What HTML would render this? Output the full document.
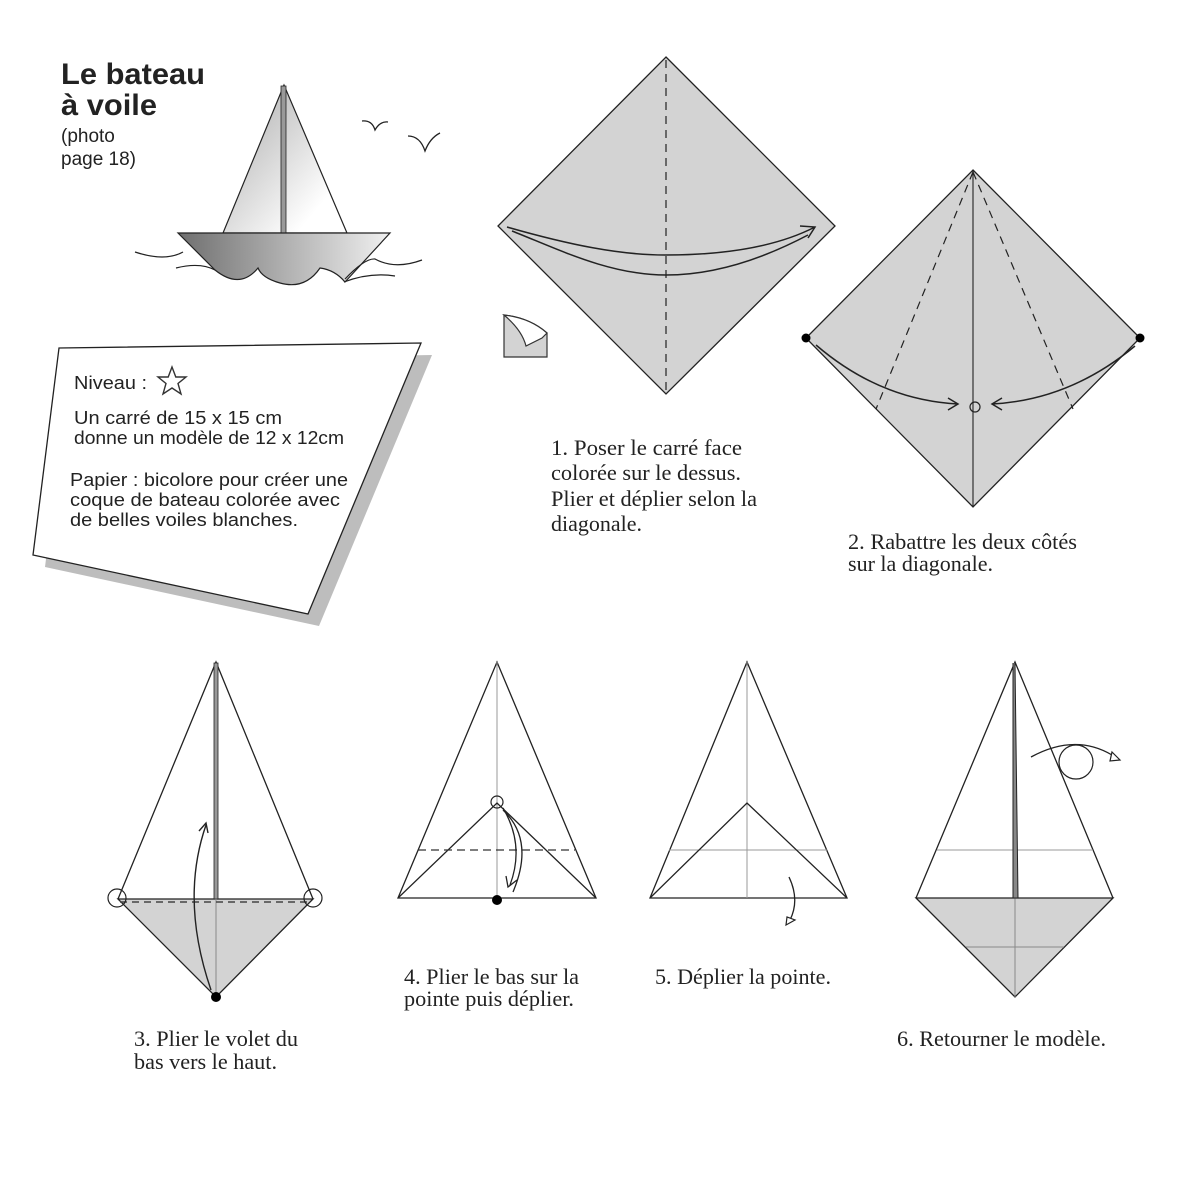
<!DOCTYPE html>
<html><head><meta charset="utf-8"><style>
html,body{margin:0;padding:0;background:#fff;}
svg{display:block;}
.s{font-family:"Liberation Serif",serif;font-size:22px;fill:#222;}
.a{font-family:"Liberation Sans",sans-serif;fill:#222;}
</style></head><body>
<svg width="1200" height="1200" viewBox="0 0 1200 1200" xmlns="http://www.w3.org/2000/svg">
<defs>
<linearGradient id="sail" x1="0" y1="0" x2="1" y2="1"><stop offset="0.3" stop-color="#c8c8c8"/><stop offset="0.8" stop-color="#ffffff"/></linearGradient>
<linearGradient id="hull" x1="0" y1="0" x2="1" y2="0"><stop offset="0" stop-color="#6f6f6f"/><stop offset="1" stop-color="#f0f0f0"/></linearGradient>
</defs>
<rect width="1200" height="1200" fill="#fff"/>
<!-- title -->
<text class="a" x="61" y="84" font-size="30" font-weight="bold" textLength="144" lengthAdjust="spacingAndGlyphs">Le bateau</text>
<text class="a" x="61" y="115" font-size="30" font-weight="bold" textLength="96" lengthAdjust="spacingAndGlyphs">à voile</text>
<text class="a" x="61" y="142" font-size="19">(photo</text>
<text class="a" x="61" y="165" font-size="19">page 18)</text>
<!-- boat -->
<path d="M284,85 L223,233 L347,233 Z" fill="url(#sail)" stroke="#222" stroke-width="1.2"/>
<rect x="281" y="86" width="5" height="147" fill="#999" stroke="#222" stroke-width="0.8"/>
<path d="M178,233 L390,233 L345,282 Q335,270 320,268 Q305,290 280,283 Q262,278 258,268 Q240,290 215,270 Z" fill="url(#hull)" stroke="#222" stroke-width="1.2"/>
<path d="M135,252 Q165,262 183,252 M176,268 Q200,262 215,270 M345,279 Q365,258 375,259 Q395,270 422,260 M344,282 Q370,272 395,276" fill="none" stroke="#222" stroke-width="1.2"/>
<path d="M362,121 Q372,120 375,130 Q380,121 388,122 M408,136 Q420,136 425,151 Q430,138 440,133" fill="none" stroke="#222" stroke-width="1.3"/>
<!-- card -->
<polygon points="71,361 432,355 319,626 45,567" fill="#bdbdbd"/>
<polygon points="59,348 421,343 308,614 33,555" fill="#fff" stroke="#222" stroke-width="1.3"/>
<text class="a" x="74" y="389" font-size="18" textLength="73" lengthAdjust="spacingAndGlyphs">Niveau :</text>
<path d="M172,367 L175.8,377 L186,377 L178,383.5 L181,394 L172,388 L163,394 L166,383.5 L158,377 L168.2,377 Z" fill="#fff" stroke="#333" stroke-width="1.4"/>
<text class="a" x="74" y="424" font-size="18.5" textLength="208" lengthAdjust="spacingAndGlyphs">Un carré de 15 x 15 cm</text>
<text class="a" x="74" y="444" font-size="18.5" textLength="270" lengthAdjust="spacingAndGlyphs">donne un modèle de 12 x 12cm</text>
<text class="a" x="70" y="486" font-size="18.5" textLength="278" lengthAdjust="spacingAndGlyphs">Papier : bicolore pour créer une</text>
<text class="a" x="70" y="506" font-size="18.5" textLength="270" lengthAdjust="spacingAndGlyphs">coque de bateau colorée avec</text>
<text class="a" x="70" y="526" font-size="18.5" textLength="228" lengthAdjust="spacingAndGlyphs">de belles voiles blanches.</text>
<!-- small icon -->
<path d="M504,315 L504,357 L547,357 L547,333 Q530,318 504,315 Z" fill="#d3d3d3" stroke="#333" stroke-width="1.2"/>
<path d="M504,315 Q530,318 547,333 L542,338 Q534,342 526,346 Q522,330 504,315 Z" fill="#fff" stroke="#333" stroke-width="1.2"/>
<!-- step 1 -->
<polygon points="666,57 835,226 666,394 498,226" fill="#d3d3d3" stroke="#222" stroke-width="1.3"/>
<line x1="666" y1="60" x2="666" y2="392" stroke="#222" stroke-width="1.2" stroke-dasharray="8,6"/>
<path d="M507,227 C570,245 620,255 665,255 C730,255 780,245 815,227" fill="none" stroke="#222" stroke-width="1.5"/>
<path d="M512,231 C560,250 610,275 666,275 C720,275 770,255 808,235" fill="none" stroke="#222" stroke-width="1.5"/>
<path d="M800,226 L815,227 L808,238" fill="none" stroke="#222" stroke-width="1.5"/>
<text class="s" x="551" y="455" textLength="191" lengthAdjust="spacingAndGlyphs">1. Poser le  carré face</text>
<text class="s" x="551" y="480" textLength="190" lengthAdjust="spacingAndGlyphs">colorée sur le dessus.</text>
<text class="s" x="551" y="506" textLength="206" lengthAdjust="spacingAndGlyphs">Plier et déplier selon la</text>
<text class="s" x="551" y="531" textLength="91" lengthAdjust="spacingAndGlyphs">diagonale.</text>
<!-- step 2 -->
<polygon points="973,170 1140,338 973,507 806,338" fill="#d3d3d3" stroke="#222" stroke-width="1.3"/>
<line x1="973" y1="170" x2="973" y2="507" stroke="#222" stroke-width="1.1"/>
<path d="M973,172 L876,409 M973,172 L1073,409" stroke="#222" stroke-width="1.2" stroke-dasharray="8,6"/>
<circle cx="806" cy="338" r="4.5" fill="#000"/><circle cx="1140" cy="338" r="4.5" fill="#000"/>
<circle cx="975" cy="407" r="5" fill="none" stroke="#222" stroke-width="1.2"/>
<path d="M816,345 Q880,400 958,404 M948,398 L958,404 L948,410" fill="none" stroke="#222" stroke-width="1.5"/>
<path d="M1135,346 Q1070,400 992,404 M1002,398 L992,404 L1002,410" fill="none" stroke="#222" stroke-width="1.5"/>
<text class="s" x="848" y="549" textLength="229" lengthAdjust="spacingAndGlyphs">2. Rabattre les deux côtés</text>
<text class="s" x="848" y="571" textLength="145" lengthAdjust="spacingAndGlyphs">sur la diagonale.</text>
<!-- step 3 -->
<polygon points="118,899 313,899 216,997" fill="#d3d3d3" stroke="#222" stroke-width="1.3"/>
<path d="M118,899 L216,662 L313,899" fill="none" stroke="#222" stroke-width="1.3"/>
<rect x="214" y="663" width="4" height="236" fill="#999" stroke="#222" stroke-width="0.8"/>
<line x1="216" y1="899" x2="216" y2="997" stroke="#888" stroke-width="1"/>
<line x1="120" y1="902" x2="311" y2="902" stroke="#444" stroke-width="1.5" stroke-dasharray="7,5"/>
<circle cx="117" cy="898" r="9" fill="none" stroke="#222" stroke-width="1.2"/>
<circle cx="313" cy="898" r="9" fill="none" stroke="#222" stroke-width="1.2"/>
<circle cx="216" cy="997" r="5" fill="#000"/>
<path d="M211,990 Q180,900 206,825 M199,831 L206,823 L208,833" fill="none" stroke="#222" stroke-width="1.4"/>
<text class="s" x="134" y="1046" textLength="164" lengthAdjust="spacingAndGlyphs">3. Plier le volet du</text>
<text class="s" x="134" y="1069" textLength="143" lengthAdjust="spacingAndGlyphs">bas vers le haut.</text>
<!-- step 4 -->
<path d="M398,898 L497,662 L596,898 Z" fill="#fff" stroke="#222" stroke-width="1.3"/>
<line x1="497" y1="662" x2="497" y2="898" stroke="#999" stroke-width="1"/>
<path d="M398,898 L497,803 L596,898" fill="none" stroke="#222" stroke-width="1.3"/>
<line x1="418" y1="850" x2="575" y2="850" stroke="#333" stroke-width="1.3" stroke-dasharray="8,5"/>
<circle cx="497" cy="802" r="6" fill="none" stroke="#222" stroke-width="1.2"/>
<circle cx="497" cy="900" r="5" fill="#000"/>
<path d="M503,808 Q525,845 510,885 M503,810 Q535,840 513,892 M506,876 L508,887 L517,880" fill="none" stroke="#222" stroke-width="1.3"/>
<text class="s" x="404" y="984" textLength="175" lengthAdjust="spacingAndGlyphs">4. Plier le bas sur la</text>
<text class="s" x="404" y="1006" textLength="170" lengthAdjust="spacingAndGlyphs">pointe puis déplier.</text>
<!-- step 5 -->
<path d="M650,898 L747,662 L847,898 Z" fill="#fff" stroke="#222" stroke-width="1.3"/>
<line x1="747" y1="662" x2="747" y2="898" stroke="#999" stroke-width="1"/>
<line x1="669" y1="850" x2="827" y2="850" stroke="#999" stroke-width="1"/>
<path d="M650,898 L747,803 L847,898" fill="none" stroke="#222" stroke-width="1.3"/>
<path d="M789,877 Q800,900 790,920" fill="none" stroke="#222" stroke-width="1.3"/>
<polygon points="786,925 795,920 787,917" fill="#fff" stroke="#222" stroke-width="1.2"/>
<text class="s" x="655" y="984" textLength="176" lengthAdjust="spacingAndGlyphs">5. Déplier la pointe.</text>
<!-- step 6 -->
<polygon points="916,898 1113,898 1015,997" fill="#d3d3d3" stroke="#222" stroke-width="1.3"/>
<path d="M916,898 L1015,662 L1113,898" fill="none" stroke="#222" stroke-width="1.3"/>
<line x1="1015" y1="898" x2="1015" y2="997" stroke="#888" stroke-width="1"/>
<line x1="937" y1="850" x2="1093" y2="850" stroke="#999" stroke-width="1"/>
<line x1="966" y1="947" x2="1064" y2="947" stroke="#888" stroke-width="1"/>
<path d="M1013,663 L1013,898 L1018,898 L1015,663" fill="#888" stroke="#222" stroke-width="1"/>
<circle cx="1076" cy="762" r="17" fill="none" stroke="#222" stroke-width="1.2"/>
<path d="M1031,757 Q1075,733 1112,755" fill="none" stroke="#222" stroke-width="1.3"/>
<polygon points="1112,752 1120,760 1110,761" fill="#fff" stroke="#222" stroke-width="1.2"/>
<text class="s" x="897" y="1046" textLength="209" lengthAdjust="spacingAndGlyphs">6. Retourner le modèle.</text>
</svg>
</body></html>
